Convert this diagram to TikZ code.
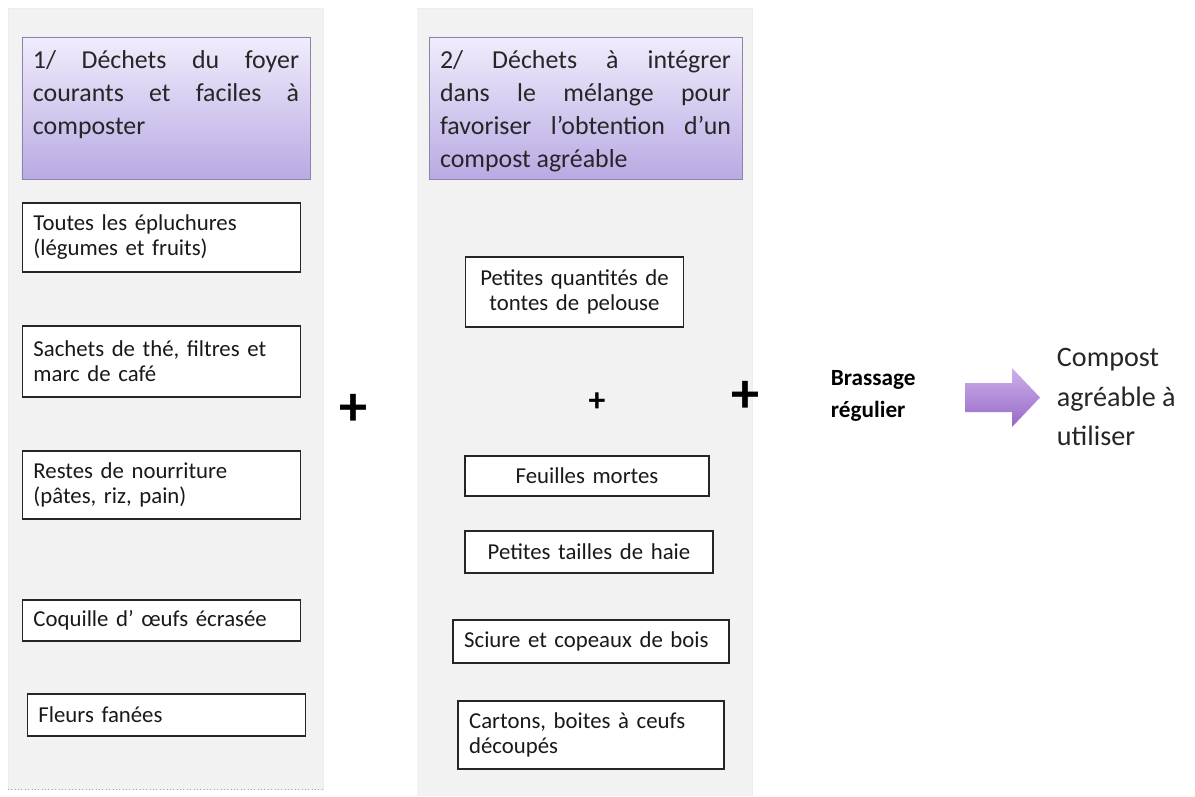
\documentclass[tikz,border=0pt]{standalone}
\usepackage{fontspec}
\setmainfont{Carlito}
\definecolor{panelgray}{HTML}{F2F2F2}
\definecolor{headtop}{HTML}{F1ECFC}
\definecolor{headbot}{HTML}{B9AAE3}
\definecolor{headline}{HTML}{8D82A8}
\definecolor{arrowtop}{HTML}{CDB0EC}
\definecolor{arrowbot}{HTML}{9768C6}
\newcommand{\itemfont}{\fontsize{16.2}{17.8}\selectfont}
\newcommand{\headfont}{\fontsize{18.4}{23.5}\selectfont\hyphenpenalty=10000\exhyphenpenalty=10000}
\tikzset{
  panel/.style={fill=panelgray,draw=black!7},
  headbox/.style={draw=headline,line width=0.6pt,top color=headtop,bottom color=headbot,
    inner xsep=0.275cm,inner ysep=0.075cm,text=black!85},
  itembox/.style={draw=black!85,line width=1pt,fill=white,inner xsep=0.28cm,inner ysep=0pt,
    font=\itemfont,text=black!90},
  itemleft/.style={itembox,align=left},
  itemcenter/.style={itembox,align=center},
  bigplus/.style={font=\fontsize{40}{40}\selectfont\bfseries},
}
\begin{document}
\begin{tikzpicture}[x=0.025cm,y=-0.025cm]
\useasboundingbox (0,0) rectangle (1195,796);
% --- panels ---
\fill[panelgray] (8,8) rectangle (323,789);
\draw[black!7] (8,8) rectangle (323,789);
\draw[dotted,black!35] (8,789) -- (323,789);
\fill[panelgray] (417,8) rectangle (752,796);
\draw[black!7] (417,8) -- (752,8) -- (752,796);
% --- headers ---
\node[headbox] (head1) at (166,108) {\parbox[c][3.4cm][t]{6.65cm}{\headfont\rule{0pt}{20pt}1/ Déchets du foyer courants et faciles à composter}};
\node[headbox] (head2) at (585.5,108) {\parbox[c][3.4cm][t]{7.27cm}{\headfont\rule{0pt}{20pt}2/ Déchets à intégrer\linebreak dans le mélange pour\linebreak favoriser l’obtention d’un\linebreak compost agréable}};
% --- column 1 ---
\node[itemleft,text width=6.4cm,minimum height=1.725cm] (peel) at (161.5,237.5) {Toutes les épluchures\\(légumes et fruits)};
\node[itemleft,text width=6.4cm,minimum height=1.775cm] (tea) at (161.5,361.5) {Sachets de thé, filtres et\\marc de café};
\node[itemleft,text width=6.4cm,minimum height=1.7cm] (food) at (161.5,485) {Restes de nourriture\\(pâtes, riz, pain)};
\node[itemleft,text width=6.4cm,minimum height=1.025cm] (shell) at (161.5,620.5) {Coquille d’ œufs écrasée};
\node[itemleft,text width=6.4cm,minimum height=1.05cm] (flower) at (166.5,715) {Fleurs fanées};
% --- column 2 ---
\node[itemcenter,text width=4.9cm,minimum height=1.75cm] (grass) at (574.5,292) {Petites quantités de\\tontes de pelouse};
\node[font=\fontsize{24}{24}\selectfont\bfseries] (plus3) at (597,402) {+};
\node[itemcenter,text width=5.54cm,minimum height=1cm] (leaf) at (587,476) {Feuilles mortes};
\node[itemcenter,text width=5.64cm,minimum height=1.05cm] (hedge) at (589,552) {Petites tailles de haie};
\node[itemleft,text width=6.34cm,minimum height=1.075cm] (wood) at (591,641.5) {Sciure et copeaux de bois};
\node[itemleft,text width=6.09cm,minimum height=1.7cm] (box) at (591,735) {Cartons, boites à ceufs\\découpés};
% --- plus signs, mixing, result ---
\node[bigplus] (plus1) at (354,410) {+};
\node[bigplus] (plus2) at (745,397) {+};
\node[anchor=west,align=left,font=\fontsize{16.5}{22.7}\selectfont\bfseries] (mix) at (826,396) {Brassage\\régulier};
\shade[top color=arrowtop,bottom color=arrowbot] (965,383) -- (1012,383) -- (1012,368) -- (1040,397.5) -- (1012,427) -- (1012,412) -- (965,412) -- cycle;
\node[anchor=west,align=left,font=\fontsize{20}{28.4}\selectfont,text=black!85] (result) at (1052,397) {Compost\\agréable à\\utiliser};
\end{tikzpicture}
\end{document}
